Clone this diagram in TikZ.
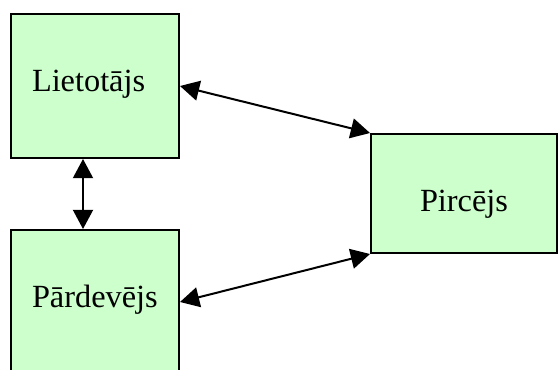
\documentclass[tikz,border=0pt]{standalone}
\usepackage{fontspec}
\setmainfont{Liberation Serif}
\usepackage{tikz}
\usetikzlibrary{arrows.meta}
\definecolor{boxgreen}{HTML}{CCFFCC}
\tikzstyle{box} = [rectangle, draw = black, fill = boxgreen, line width = 0.05cm, inner sep = 0pt, font = \fontsize{23}{28}\selectfont, text height = 0.75cm, text depth = 0.5cm]
\tikzstyle{link} = [{Triangle[length = 0.48cm, width = 0.5cm]}-{Triangle[length = 0.48cm, width = 0.5cm]}, line width = 0.05cm]

\begin{document}
\begin{tikzpicture}
            \useasboundingbox (0, 0) rectangle (13.95, -9.225);
            \node (L) at (2.375, -2.15) [box, minimum width = 4.2cm, minimum height = 3.6cm, text width = 3.15cm, align = left] {Lietotājs};
            \node (D) at (2.375, -7.55) [box, minimum width = 4.2cm, minimum height = 3.6cm, text width = 3.15cm, align = left] {Pārdevējs};
            \node (P) at (11.6, -4.8375) [box, minimum width = 4.65cm, minimum height = 2.975cm, text height = 1.415cm] {Pircējs};
            \draw [link] ([xshift = -0.3cm] L.south) -- ([xshift = -0.3cm] D.north);
            \draw [link] (L.east) -- (P.north west);
            \draw [link] (D.east) -- (P.south west);
        \end{tikzpicture}
\end{document}
